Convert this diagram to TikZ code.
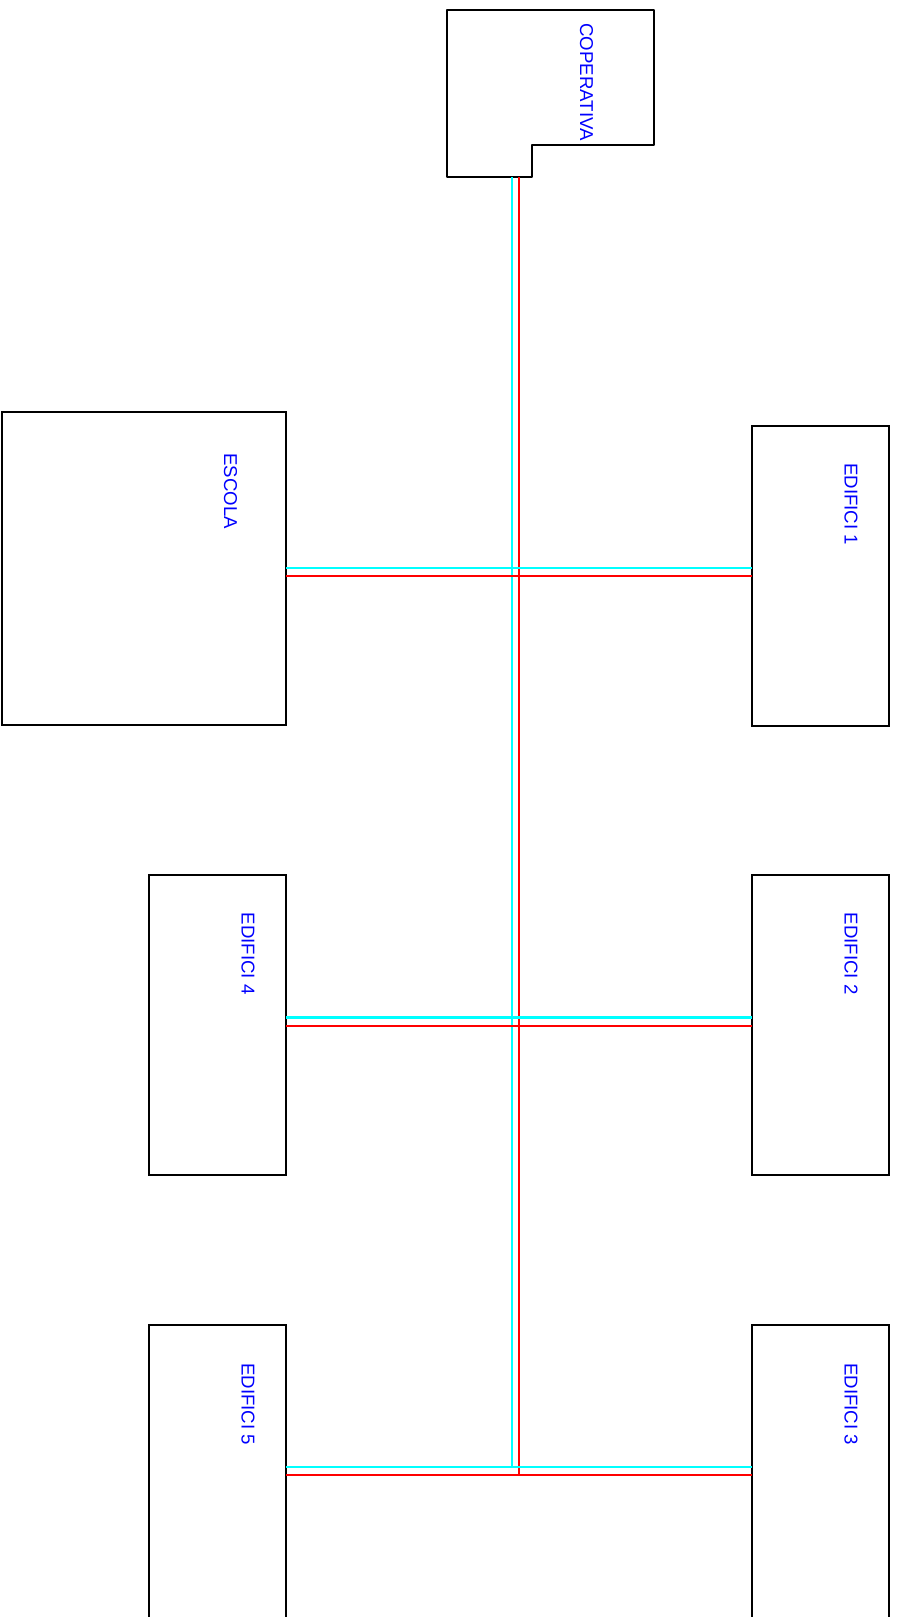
\documentclass[tikz,border=0pt]{standalone}
\usepackage{fontspec}
\setmainfont{Liberation Sans}
\usetikzlibrary{positioning}
\definecolor{wirecyan}{RGB}{0,255,255}
\definecolor{wirered}{RGB}{255,0,0}
\definecolor{lblblue}{RGB}{0,0,255}

\begin{document}
\begin{tikzpicture}[x=0.02cm, y=-0.02cm,
    bldg/.style={draw, line width=1.2pt, anchor=north west, inner sep=0pt, outer sep=0pt,
                 minimum width=#1*0.02cm, minimum height=6cm},
    lbl/.style={text=lblblue, rotate=-90, anchor=west, inner sep=0pt, font=\fontsize{10.6}{12}\selectfont},
    cyanline/.style={wirecyan, line width=1.2pt},
    redline/.style={wirered, line width=1.2pt}]
  \useasboundingbox (0,0) rectangle (898,1617);

  %% Buildings (left and right rows)
  \node[bldg=284, minimum height=6.27cm] (escola) at (2,411.7) {};
  \node[bldg=137] (edif1) at (751.7,425.8) {};
  \node[bldg=137] (edif2) at (751.7,875.3) {};
  \node[bldg=137] (edif3) at (751.7,1325) {};
  \node[bldg=137] (edif4) at (149,875.3) {};
  \node[bldg=137] (edif5) at (149,1325) {};

  %% Cooperative outline
  \draw[line width=1.2pt, line join=round] (447,10) -- (654,10) -- (654,145) -- (532,145)
    -- (532,177) -- (447,177) -- cycle;
  \draw[line width=1.2pt] (654,40) -- (655,40);

  %% Labels
  \node[lbl] (lcop) at (586.5,23)   {COPERATIVA};
  \node[lbl] (lesc) at (230.5,453)  {ESCOLA};
  \node[lbl] (led1) at (851,463)    {EDIFICI 1};
  \node[lbl] (led2) at (851,912.5)  {EDIFICI 2};
  \node[lbl] (led3) at (851,1363)   {EDIFICI 3};
  \node[lbl] (led4) at (248,912.5)  {EDIFICI 4};
  \node[lbl] (led5) at (248,1363)   {EDIFICI 5};

  %% Line ends
  \coordinate (cytop) at (511.7,177);
  \coordinate (rdtop) at (518.7,177);
  \coordinate (cy1) at (511.7,567.7);
  \coordinate (rd1) at (518.7,575.8);
  \coordinate (cy2) at (511.7,1017.5);
  \coordinate (rd2) at (518.7,1025.7);
  \coordinate (cy3) at (511.7,1466.7);
  \coordinate (rd3) at (518.7,1475);

  %% Main lines
  \draw[cyanline] (cytop) -- (cy3);
  \draw[redline]  (rdtop) -- (rd3);

  %% Branches
  \draw[cyanline] (escola.east |- cy1) -- (edif1.west |- cy1);
  \draw[redline]  (escola.east |- rd1) -- (edif1.west |- rd1);
  \draw[cyanline] (edif4.east |- cy2) -- (edif2.west |- cy2);
  \draw[redline]  (edif4.east |- rd2) -- (edif2.west |- rd2);
  \draw[cyanline] (edif5.east |- cy3) -- (edif3.west |- cy3);
  \draw[redline]  (edif5.east |- rd3) -- (edif3.west |- rd3);
\end{tikzpicture}
\end{document}
